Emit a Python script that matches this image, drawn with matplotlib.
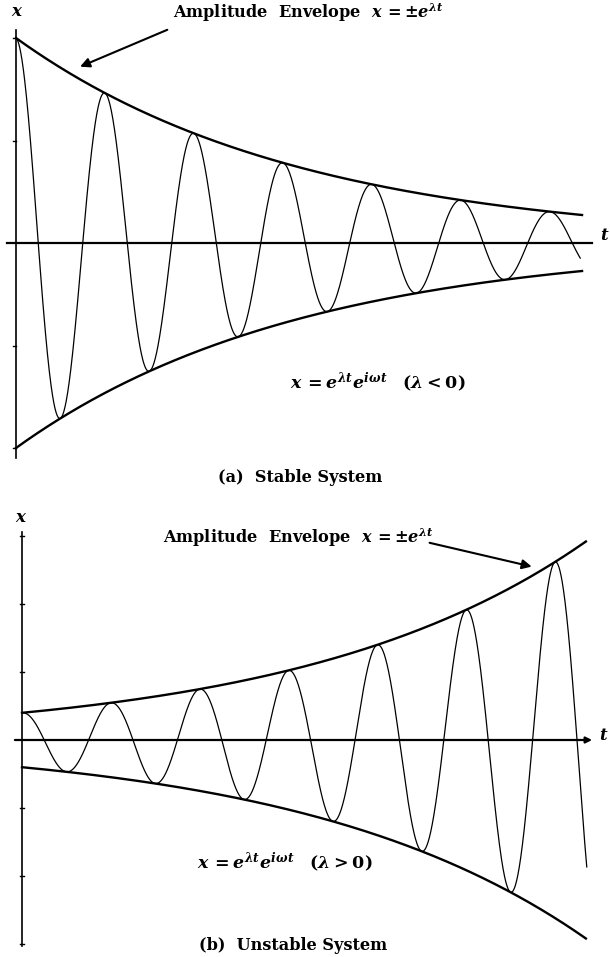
import numpy as np
import matplotlib
matplotlib.use("Agg")
import matplotlib.pyplot as plt

plt.rcParams['mathtext.fontset'] = 'custom'
plt.rcParams['mathtext.rm'] = 'DejaVu Serif:bold'
plt.rcParams['mathtext.it'] = 'DejaVu Serif:italic:bold'
plt.rcParams['mathtext.bf'] = 'DejaVu Serif:bold'
plt.rcParams['font.family'] = 'DejaVu Serif'

# ---- data ----
# panel (a): stable, x = A0 e^{lam t} cos(omega t)
lam_a = -0.313        # growth rate (negative -> decay)
A0_a = 1.0            # initial amplitude
t_end_a = 6.36        # envelope end (cycles)
t_curve_end_a = 6.34  # oscillation end
yticks_a = [-1.0, -0.5, 0.5, 1.0]

# panel (b): unstable
lam_b = 0.313
A0_b = 0.40
t_end_b = 6.35
t_curve_end_b = 6.36
yticks_b = [-3, -2, -1, 1, 2, 3]

omega = 2 * np.pi     # one cycle per unit t

W, H = 610, 957
fig = plt.figure(figsize=(W / 100, H / 100), dpi=100)

def px(x, y):
    return x / W, 1 - y / H

# ---------- panel (a) ----------
axa = fig.add_axes([0, 1 - 480 / H, 1, 480 / H])
axa.set_xlim((0 - 16) / 89, (610 - 16) / 89)
axa.set_ylim((243 - 480) / 205, 243 / 205)
axa.axis('off')

t = np.linspace(0, t_curve_end_a, 2000)
axa.plot(t, A0_a * np.exp(lam_a * t) * np.cos(omega * t), color='black', lw=0.9)
te = np.linspace(0, t_end_a, 500)
axa.plot(te, A0_a * np.exp(lam_a * te), color='black', lw=1.7)
axa.plot(te, -A0_a * np.exp(lam_a * te), color='black', lw=1.7)
# axes lines
axa.plot([-0.1, 6.47], [0, 0], color='black', lw=1.6)
axa.plot([0, 0], [-1.05, 1.04], color='black', lw=1.2)
for yt in yticks_a:
    axa.plot([-0.03, 0.0], [yt, yt], color='black', lw=1.0)
axa.annotate('', xy=(0.72, 0.86), xytext=(1.70, 1.04),
             arrowprops=dict(arrowstyle='-|>', lw=1.5, color='black',
                             mutation_scale=14, shrinkA=0, shrinkB=0))

fig.text(*px(17, 12), r'$x$', fontsize=12, ha='center', va='center')
fig.text(*px(605, 236), r'$t$', fontsize=12, ha='center', va='center')
fig.text(*px(173, 13), r'Amplitude  Envelope  $x\,=\pm e^{\lambda t}$',
         fontsize=11.6, fontweight='bold', ha='left', va='center')
fig.text(*px(290, 382), r'$x\,=e^{\lambda t}e^{i\omega t}$   $(\lambda<0)$',
         fontsize=12.5, ha='left', va='center')
fig.text(*px(300, 478), '(a)  Stable System', fontsize=11.6,
         fontweight='bold', ha='center', va='center')

# ---------- panel (b) ----------
axb = fig.add_axes([0, 0, 1, 477 / H])
axb.set_xlim((0 - 22) / 88.8, (610 - 22) / 88.8)
axb.set_ylim((740 - 957) / 68, (740 - 480) / 68)
axb.axis('off')

t = np.linspace(0, t_curve_end_b, 2000)
axb.plot(t, A0_b * np.exp(lam_b * t) * np.cos(omega * t), color='black', lw=0.9)
te = np.linspace(0, t_end_b, 500)
axb.plot(te, A0_b * np.exp(lam_b * te), color='black', lw=1.7)
axb.plot(te, -A0_b * np.exp(lam_b * te), color='black', lw=1.7)
axb.annotate('', xy=(6.42, 0), xytext=(-0.08, 0),
             arrowprops=dict(arrowstyle='-|>', lw=1.6, color='black',
                             mutation_scale=9, shrinkA=0, shrinkB=0))
axb.plot([0, 0], [-3.03, 3.06], color='black', lw=1.2)
for yt in yticks_b:
    axb.plot([-0.025, 0.025], [yt, yt], color='black', lw=1.0)
axb.annotate('', xy=(5.74, 2.55), xytext=(4.59, 2.90),
             arrowprops=dict(arrowstyle='-|>', lw=1.5, color='black',
                             mutation_scale=14, shrinkA=0, shrinkB=0))

fig.text(*px(21, 517), r'$x$', fontsize=12, ha='center', va='center')
fig.text(*px(604, 736), r'$t$', fontsize=12, ha='center', va='center')
fig.text(*px(163, 538), r'Amplitude  Envelope  $x\,=\pm e^{\lambda t}$',
         fontsize=11.6, fontweight='bold', ha='left', va='center')
fig.text(*px(197, 862), r'$x\,=e^{\lambda t}e^{i\omega t}$   $(\lambda>0)$',
         fontsize=12.5, ha='left', va='center')
fig.text(*px(293, 946), '(b)  Unstable System', fontsize=11.6,
         fontweight='bold', ha='center', va='center')

fig.savefig('out.png', dpi=100, facecolor='white')
